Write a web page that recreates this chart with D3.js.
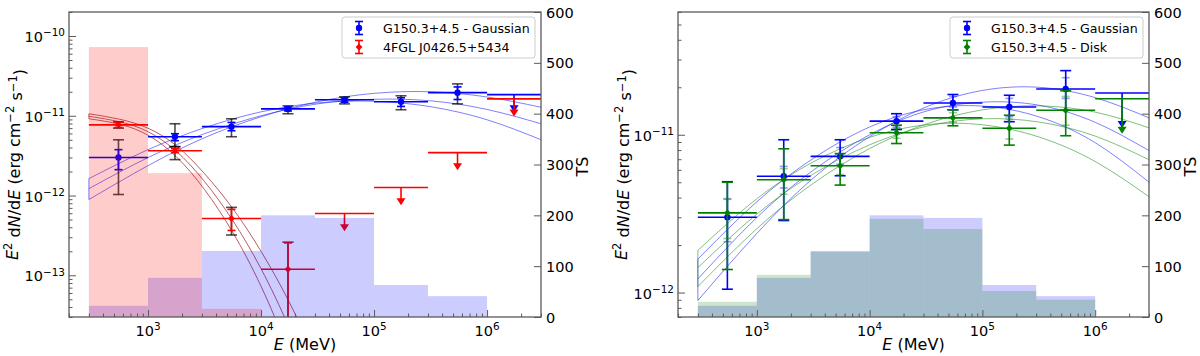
<!DOCTYPE html>
<html>
<head>
<meta charset="utf-8">
<script src="https://cdn.jsdelivr.net/npm/d3@7"></script>
<style>
  body { margin: 0; background: #fff; }
  svg { font-family: 'DejaVu Sans', sans-serif; }
</style>
</head>
<body>
<div id="chart"></div>
<script>
// ---- data ----
const binEdges = [300, 1e3, 3e3, 1e4, 3e4, 1e5, 3e5, 1e6, 3e6];
const binCenters = [548, 1732, 5477, 17321, 54772, 173205, 547723, 1732051];
const energyTicks = [1e3, 1e4, 1e5, 1e6];
const tsTicks = [0, 100, 200, 300, 400, 500, 600];
const seriesNames = ['G150.3+4.5 - Gaussian', '4FGL J0426.5+5434', 'G150.3+4.5 - Disk'];

// G150.3+4.5 Gaussian
const gaussFlux = [3.0e-12, 5.46e-12, 7.3e-12, 1.22e-11, 1.59e-11, 1.5e-11, 1.95e-11, 1.84e-11];
const gaussIsUL = [false, false, false, false, false, false, false, true];
const gaussStatLeft = [[2.11e-12, 3.76e-12], [4.87e-12, 5.96e-12], [6.49e-12, 8.25e-12], [1.15e-11, 1.29e-11], [1.48e-11, 1.68e-11], [1.31e-11, 1.68e-11], [1.6e-11, 2.3e-11], null];
const gaussTotLeft = [[1.03e-12, 5.0e-12], [4.1e-12, 7.94e-12], [5.46e-12, 9.17e-12], [1.06e-11, 1.33e-11], [1.41e-11, 1.73e-11], [1.19e-11, 1.78e-11], [1.41e-11, 2.51e-11], null];
const gaussStatRight = [[2.1e-12, 3.9e-12], [4.6e-12, 6.3e-12], [6.5e-12, 8.3e-12], [1.12e-11, 1.3e-11], [1.5e-11, 1.75e-11], [1.3e-11, 1.7e-11], [1.7e-11, 2.3e-11], null];
const gaussTotRight = [[1.05e-12, 5.04e-12], [2.86e-12, 9.3e-12], [5.5e-12, 9.3e-12], [1.08e-11, 1.36e-11], [1.44e-11, 1.8e-11], [1.21e-11, 1.78e-11], [1.43e-11, 2.55e-11], null];
const gaussTS = [22, 77, 130, 200, 195, 63, 41, 0];

// 4FGL J0426.5+5434
const fglFlux = [7.7e-12, 3.65e-12, 5.16e-13, 1.19e-13, 5.96e-13, 1.26e-12, 3.45e-12, 1.63e-11];
const fglIsUL = [false, false, false, false, true, true, true, true];
const fglStat = [[7.14e-12, 8.25e-12], [3.45e-12, 3.87e-12], [3.65e-13, 6.7e-13], [1e-16, 2.55e-13], null, null, null, null];
const fglTot = [[7.0e-12, 8.4e-12], [2.82e-12, 4.1e-12], [3.2e-13, 7.1e-13], [1e-16, 2.6e-13], null, null, null, null];
const fglTS = [531, 283, 16, 0, 0, 0, 0, 0];

// G150.3+4.5 Disk
const diskFlux = [3.2e-12, 5.19e-12, 6.36e-12, 1.03e-11, 1.28e-11, 1.1e-11, 1.43e-11, 1.69e-11];
const diskIsUL = [false, false, false, false, false, false, false, true];
const diskStat = [[2.2e-12, 3.94e-12], [4.2e-12, 6.1e-12], [5.6e-12, 7.2e-12], [9.5e-12, 1.1e-11], [1.2e-11, 1.38e-11], [9.4e-12, 1.25e-11], [1.15e-11, 1.75e-11], null];
const diskTot = [[1.4e-12, 5.0e-12], [2.9e-12, 8.15e-12], [4.8e-12, 7.6e-12], [8.8e-12, 1.15e-11], [1.14e-11, 1.44e-11], [8.6e-12, 1.33e-11], [9.86e-12, 1.9e-11], null];
const diskTS = [30, 83, 128, 193, 173, 51, 34, 0];

// model bands (flux sampled along energy)
const curveEnergies = [300, 1e3, 3162, 1e4, 31623, 1e5, 316228, 1e6, 3e6];
const gaussCurves = [
  [1.63e-12, 3.76e-12, 7.08e-12, 1.12e-11, 1.45e-11, 1.52e-11, 1.30e-11, 8.91e-12, 5.01e-12],
  [1.22e-12, 2.99e-12, 5.96e-12, 1.0e-11, 1.41e-11, 1.61e-11, 1.54e-11, 1.20e-11, 7.94e-12],
  [8.91e-13, 2.37e-12, 5.31e-12, 9.72e-12, 1.50e-11, 1.91e-11, 2.0e-11, 1.72e-11, 1.28e-11]
];
const diskCurves = [
  [1.85e-12, 3.93e-12, 6.73e-12, 9.63e-12, 1.157e-11, 1.157e-11, 9.69e-12, 6.77e-12, 4.05e-12],
  [1.44e-12, 3.14e-12, 5.64e-12, 8.64e-12, 1.132e-11, 1.263e-11, 1.205e-11, 9.81e-12, 6.95e-12],
  [1.09e-12, 2.54e-12, 4.92e-12, 8.18e-12, 1.169e-11, 1.439e-11, 1.526e-11, 1.392e-11, 1.107e-11]
];
const fglCurveEnergies = [300, 562, 1e3, 1778, 3162, 5623, 1e4, 17783, 31623];
const fglCurves = [
  [1.06e-11, 9.04e-12, 6.98e-12, 4.22e-12, 1.88e-12, 6.88e-13, 2.0e-13, 4.6e-14, 8.2e-15],
  [9.86e-12, 8.41e-12, 6.31e-12, 3.6e-12, 1.5e-12, 4.87e-13, 1.21e-13, 2.18e-14, 2.9e-15],
  [9.17e-12, 7.83e-12, 5.71e-12, 3.07e-12, 1.19e-12, 3.45e-13, 7.29e-14, 1.03e-14, 9.7e-16]
];

// ---- layout ----
const config = {
  width: 1200,
  height: 356,
  top: 12,
  bottom: 317,
  spine: '#5a5a5a',
  tickFont: 14.5,
  labelFont: 16,
  ulFrac: 0.6
};
const panels = [
  { left: 69, right: 541, yDomain: [3e-14, 2e-10], yMajors: [1e-13, 1e-12, 1e-11, 1e-10] },
  { left: 678, right: 1149, yDomain: [7e-13, 6e-11], yMajors: [1e-12, 1e-11] }
];

const svg = d3.select('#chart').append('svg')
  .attr('width', config.width)
  .attr('height', config.height);

function addPow(sel, exp) {
  sel.append('tspan').text('10');
  sel.append('tspan').attr('dy', '-0.55em').attr('font-size', '0.72em').text(exp);
}

function fmtExp(v) {
  const e = Math.round(Math.log10(v));
  return (e < 0 ? '\u2212' + (-e) : '' + e);
}

function setupPanel(p, idx) {
  const x = d3.scaleLog().domain([200, 3e6]).range([p.left, p.right]);
  const y = d3.scaleLog().domain(p.yDomain).range([config.bottom, config.top]);
  const ts = d3.scaleLinear().domain([0, 600]).range([config.bottom, config.top]);
  const g = svg.append('g').attr('class', 'panel' + idx);
  const clipId = 'clip' + idx;
  g.append('clipPath').attr('id', clipId).append('rect')
    .attr('x', p.left).attr('y', config.top)
    .attr('width', p.right - p.left).attr('height', config.bottom - config.top);
  const plot = g.append('g').attr('clip-path', `url(#${clipId})`);
  return { x, y, ts, g, plot };
}

function drawCurves(plot, x, y, energies, curves, color, opacity) {
  const line = d3.line()
    .x((d, i) => x(energies[i]))
    .y(d => y(d))
    .curve(d3.curveNatural);
  curves.forEach(c => {
    plot.append('path').attr('d', line(c))
      .attr('fill', 'none').attr('stroke', color)
      .attr('stroke-opacity', opacity).attr('stroke-width', 1);
  });
  const firsts = curves.map(c => c[0]);
  plot.append('line')
    .attr('x1', x(energies[0])).attr('x2', x(energies[0]))
    .attr('y1', y(d3.max(firsts))).attr('y2', y(d3.min(firsts)))
    .attr('stroke', color).attr('stroke-opacity', opacity).attr('stroke-width', 1);
}

function errBar(plot, cx, y0, y1, color, opacity, capW) {
  const gg = plot.append('g').attr('stroke', color).attr('stroke-opacity', opacity).attr('stroke-width', 1.6);
  gg.append('line').attr('x1', cx).attr('x2', cx).attr('y1', y0).attr('y2', y1);
  gg.append('line').attr('x1', cx - capW).attr('x2', cx + capW).attr('y1', y0).attr('y2', y0);
  gg.append('line').attr('x1', cx - capW).attr('x2', cx + capW).attr('y1', y1).attr('y2', y1);
}

function markerPath(shape) {
  if (shape === 'diamond') return d3.symbol().type(d3.symbolDiamond2).size(30)();
  return d3.symbol().type(d3.symbolCircle).size(32)();
}

function drawPoints(plot, x, y, s) {
  s.flux.forEach((f, i) => {
    const cx = x(binCenters[i]);
    const cy = y(f);
    plot.append('line')
      .attr('x1', x(binEdges[i])).attr('x2', x(binEdges[i + 1]))
      .attr('y1', cy).attr('y2', cy)
      .attr('stroke', s.color).attr('stroke-width', 1.6);
    if (s.isUL[i]) {
      const tip = y(f * config.ulFrac);
      plot.append('line').attr('x1', cx).attr('x2', cx).attr('y1', cy).attr('y2', tip - 5)
        .attr('stroke', s.color).attr('stroke-width', 1.6);
      plot.append('path')
        .attr('d', `M${cx - 4.5},${tip - 7} L${cx + 4.5},${tip - 7} L${cx},${tip} Z`)
        .attr('fill', s.color);
      return;
    }
    const tot = s.tot[i], stat = s.stat[i];
    errBar(plot, cx, y(tot[0]), y(tot[1]), s.totColor || s.color, s.totOpacity, 5.5);
    errBar(plot, cx, y(stat[0]), y(stat[1]), s.color, s.statOpacity, 4);
    plot.append('path').attr('d', markerPath(s.marker))
      .attr('transform', `translate(${cx},${cy})`)
      .attr('fill', s.color);
  });
}

function drawTS(plot, x, ts, values, color) {
  plot.append('g').selectAll('rect')
    .data(values)
    .join('rect')
    .attr('x', (d, i) => x(binEdges[i]))
    .attr('width', (d, i) => x(binEdges[i + 1]) - x(binEdges[i]))
    .attr('y', d => ts(d))
    .attr('height', d => config.bottom - ts(d))
    .attr('fill', color)
    .attr('fill-opacity', 0.2);
}

function drawAxes(P, p) {
  const { x, y, ts, g } = P;
  const xMinor = x.ticks().filter(v => !energyTicks.includes(v));
  const yMinor = y.ticks().filter(v => !p.yMajors.some(m => Math.abs(m - v) / m < 1e-6));

  const axes = g.append('g').attr('class', 'axes');
  const addAxis = (axis, transform) => {
    const a = axes.append('g').attr('transform', transform).call(axis);
    a.select('.domain').remove();
    a.selectAll('.tick line').attr('stroke', config.spine);
    a.selectAll('.tick text').remove();
    return a;
  };
  addAxis(d3.axisBottom(x).tickValues(energyTicks).tickSize(-7).tickFormat(''), `translate(0,${config.bottom})`);
  addAxis(d3.axisBottom(x).tickValues(xMinor).tickSize(-3.5).tickFormat(''), `translate(0,${config.bottom})`);
  addAxis(d3.axisLeft(y).tickValues(p.yMajors).tickSize(-7).tickFormat(''), `translate(${p.left},0)`);
  addAxis(d3.axisLeft(y).tickValues(yMinor).tickSize(-3.5).tickFormat(''), `translate(${p.left},0)`);
  addAxis(d3.axisRight(ts).tickValues(tsTicks).tickSize(-7).tickFormat(''), `translate(${p.right},0)`);

  axes.append('rect')
    .attr('x', p.left).attr('y', config.top)
    .attr('width', p.right - p.left).attr('height', config.bottom - config.top)
    .attr('fill', 'none').attr('stroke', config.spine).attr('stroke-width', 1.3);

  // tick labels
  energyTicks.forEach(v => {
    const t = axes.append('text')
      .attr('x', x(v)).attr('y', config.bottom + 19)
      .attr('text-anchor', 'middle').attr('font-size', config.tickFont);
    addPow(t, fmtExp(v));
  });
  p.yMajors.forEach(v => {
    const t = axes.append('text')
      .attr('x', p.left - 4).attr('y', y(v) + 6)
      .attr('text-anchor', 'end').attr('font-size', config.tickFont);
    addPow(t, fmtExp(v));
  });
  tsTicks.forEach(v => {
    axes.append('text')
      .attr('x', p.right + 5).attr('y', ts(v) + 5.5)
      .attr('font-size', config.tickFont).text(v);
  });

  // axis labels
  const xl = axes.append('text')
    .attr('x', (p.left + p.right) / 2).attr('y', 350)
    .attr('text-anchor', 'middle').attr('font-size', config.labelFont);
  xl.append('tspan').attr('font-style', 'italic').text('E');
  xl.append('tspan').text(' (MeV)');

  const yc = (config.top + config.bottom) / 2;
  const yl = axes.append('text')
    .attr('transform', `translate(${p.left - 51},${yc}) rotate(-90)`)
    .attr('text-anchor', 'middle').attr('font-size', config.labelFont);
  yl.append('tspan').attr('font-style', 'italic').text('E');
  yl.append('tspan').attr('dy', '-0.5em').attr('font-size', '0.72em').text('2');
  yl.append('tspan').attr('dy', '0.5em').text(' d');
  yl.append('tspan').attr('font-style', 'italic').text('N');
  yl.append('tspan').text('/d');
  yl.append('tspan').attr('font-style', 'italic').text('E');
  yl.append('tspan').text(' (erg cm');
  yl.append('tspan').attr('dy', '-0.5em').attr('font-size', '0.72em').text('\u22122');
  yl.append('tspan').attr('dy', '0.5em').text(' s');
  yl.append('tspan').attr('dy', '-0.5em').attr('font-size', '0.72em').text('\u22121');
  yl.append('tspan').attr('dy', '0.5em').text(')');

  axes.append('text')
    .attr('transform', `translate(${p.right + 47},${yc + 2}) rotate(-90)`)
    .attr('text-anchor', 'middle').attr('font-size', config.labelFont)
    .text('TS');
}

function drawLegend(g, p, entries) {
  const w = 193, h = 41;
  const lx = p.right - 6 - w, ly = 17;
  const lg = g.append('g').attr('class', 'legend');
  lg.append('rect').attr('x', lx).attr('y', ly).attr('width', w).attr('height', h)
    .attr('rx', 3).attr('fill', '#fff').attr('fill-opacity', 0.8)
    .attr('stroke', '#ccc').attr('stroke-width', 1);
  entries.forEach((e, i) => {
    const cy = ly + 11 + i * 19;
    const cx = lx + 17;
    errBar(lg, cx, cy - 6.5, cy + 6.5, e.color, 1, 4);
    lg.append('path').attr('d', markerPath(e.marker))
      .attr('transform', `translate(${cx},${cy})`).attr('fill', e.color);
    lg.append('text').attr('x', lx + 41).attr('y', cy + 4.6)
      .attr('font-size', 12.6).text(e.name);
  });
}

// ---- left panel ----
const L = setupPanel(panels[0], 0);
drawCurves(L.plot, L.x, L.y, curveEnergies, gaussCurves, '#0000ff', 0.5);
drawCurves(L.plot, L.x, L.y, fglCurveEnergies, fglCurves, '#a52a2a', 0.75);
drawPoints(L.plot, L.x, L.y, { flux: gaussFlux, isUL: gaussIsUL, stat: gaussStatLeft, tot: gaussTotLeft,
  color: '#0000ff', totColor: '#000', totOpacity: 0.7, statOpacity: 1, marker: 'circle' });
drawPoints(L.plot, L.x, L.y, { flux: fglFlux, isUL: fglIsUL, stat: fglStat, tot: fglTot,
  color: '#ff0000', totColor: '#000', totOpacity: 0.7, statOpacity: 1, marker: 'diamond' });
drawTS(L.plot, L.x, L.ts, gaussTS, '#0000ff');
drawTS(L.plot, L.x, L.ts, fglTS, '#ff0000');
drawAxes(L, panels[0]);
drawLegend(L.g, panels[0], [
  { name: seriesNames[0], color: '#0000ff', marker: 'circle' },
  { name: seriesNames[1], color: '#ff0000', marker: 'diamond' }
]);

// ---- right panel ----
const R = setupPanel(panels[1], 1);
drawCurves(R.plot, R.x, R.y, curveEnergies, gaussCurves, '#0000ff', 0.5);
drawCurves(R.plot, R.x, R.y, curveEnergies, diskCurves, '#008000', 0.5);
drawPoints(R.plot, R.x, R.y, { flux: gaussFlux, isUL: gaussIsUL, stat: gaussStatRight, tot: gaussTotRight,
  color: '#0000ff', totOpacity: 1, statOpacity: 0.4, marker: 'circle' });
drawPoints(R.plot, R.x, R.y, { flux: diskFlux, isUL: diskIsUL, stat: diskStat, tot: diskTot,
  color: '#008000', totOpacity: 1, statOpacity: 0.4, marker: 'diamond' });
drawTS(R.plot, R.x, R.ts, gaussTS, '#0000ff');
drawTS(R.plot, R.x, R.ts, diskTS, '#008000');
drawAxes(R, panels[1]);
drawLegend(R.g, panels[1], [
  { name: seriesNames[0], color: '#0000ff', marker: 'circle' },
  { name: seriesNames[2], color: '#008000', marker: 'diamond' }
]);
</script>
</body>
</html>
